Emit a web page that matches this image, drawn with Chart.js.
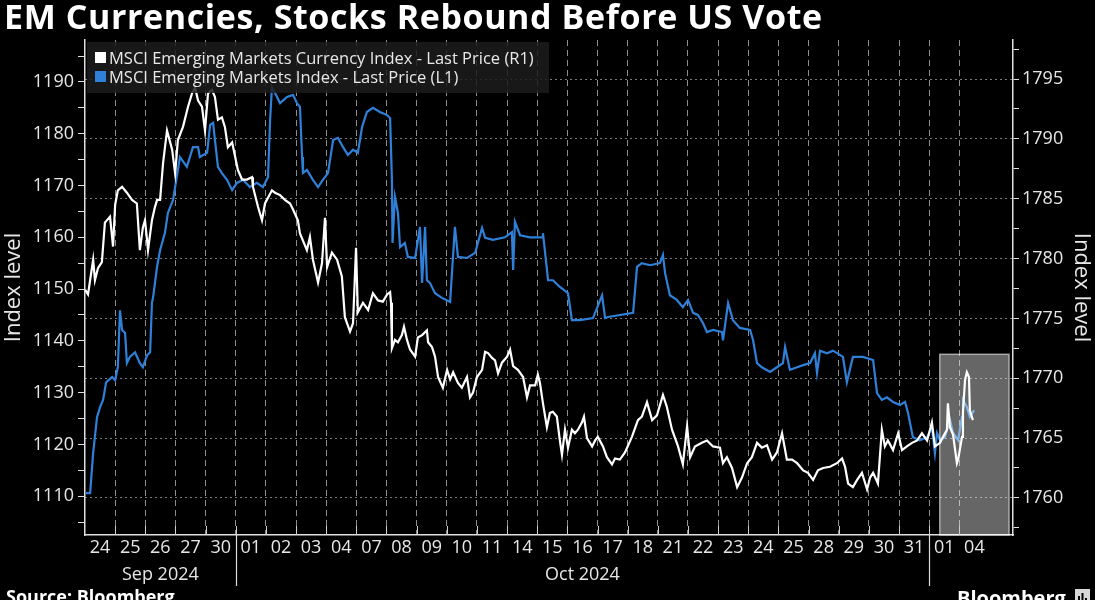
<!DOCTYPE html>
<html>
<head>
<meta charset="utf-8">
<script src="https://cdn.jsdelivr.net/npm/chart.js@4.4.1/dist/chart.umd.min.js"></script>
<style>
  html, body { margin: 0; padding: 0; background: #000; }
  #wrap { width: 1095px; height: 600px; }
</style>
</head>
<body>
<div id="wrap"><canvas id="chart" width="1095" height="600"></canvas></div>
<script>
// trading days on the x axis (one slot per day)
const days = ['24','25','26','27','30','01','02','03','04','07','08','09','10','11','14','15','16','17','18','21','22','23','24','25','28','29','30','31','01','04'];
const months = ['Sep 2024', 'Oct 2024', ''];
const monthStart = [0, 5, 28, 30];

const leftTicks = [1105,1110,1115,1120,1125,1130,1135,1140,1145,1150,1155,1160,1165,1170,1175,1180,1185,1190,1195];
const rightTicks = [1757.5,1760,1762.5,1765,1767.5,1770,1772.5,1775,1777.5,1780,1782.5,1785,1787.5,1790,1792.5,1795,1797.5];

// MSCI EM Currency Index (white, right axis) - position in days, value
const ccyT = [0.00,0.10,0.27,0.33,0.43,0.56,0.66,0.83,0.93,1.00,1.09,1.23,1.39,1.56,1.72,1.82,1.92,1.99,2.06,2.09,2.22,2.32,2.39,2.49,2.59,2.72,2.89,2.99,3.08,3.25,3.42,3.55,3.65,3.75,3.88,3.98,4.08,4.21,4.31,4.41,4.54,4.64,4.74,4.88,4.98,5.07,5.21,5.37,5.54,5.57,5.74,5.87,5.97,6.20,6.30,6.47,6.63,6.80,6.90,7.06,7.13,7.36,7.46,7.56,7.73,7.86,7.96,8.03,8.19,8.36,8.52,8.62,8.79,8.89,8.99,9.05,9.22,9.39,9.55,9.72,9.88,10.02,10.12,10.15,10.18,10.28,10.38,10.51,10.58,10.68,10.78,10.95,11.04,11.18,11.34,11.38,11.51,11.61,11.71,11.87,12.01,12.11,12.21,12.37,12.50,12.67,12.77,12.87,13.00,13.17,13.27,13.37,13.50,13.60,13.70,13.83,14.00,14.10,14.20,14.36,14.53,14.66,14.76,14.93,15.02,15.09,15.19,15.32,15.42,15.52,15.65,15.75,15.82,15.92,16.02,16.15,16.25,16.35,16.48,16.55,16.65,16.82,16.92,17.01,17.18,17.31,17.48,17.58,17.74,17.91,18.14,18.34,18.47,18.64,18.81,18.97,19.17,19.30,19.47,19.67,19.83,19.97,20.07,20.23,20.46,20.63,20.83,21.06,21.16,21.29,21.46,21.63,21.79,21.96,22.12,22.29,22.45,22.62,22.79,22.95,23.12,23.28,23.45,23.62,23.82,23.98,24.15,24.31,24.48,24.71,24.94,25.11,25.21,25.31,25.47,25.61,25.77,25.94,26.04,26.14,26.30,26.43,26.53,26.63,26.80,26.97,27.10,27.26,27.43,27.60,27.76,27.93,28.09,28.19,28.36,28.46,28.59,28.62,28.69,28.79,28.92,28.96,29.09,29.12,29.19,29.25,29.32,29.35,29.45];
const ccyV = [1777.4,1777.0,1779.9,1778.2,1779.2,1779.7,1783.0,1783.5,1781.0,1784.5,1785.7,1786.0,1785.5,1784.9,1784.6,1780.7,1782.6,1783.2,1781.5,1780.7,1783.2,1784.3,1784.9,1784.9,1788.0,1790.7,1789.1,1787.1,1789.9,1791.0,1792.7,1793.8,1794.3,1793.2,1792.7,1790.7,1793.8,1794.1,1793.5,1791.6,1791.8,1791.0,1789.3,1789.7,1788.5,1787.4,1786.6,1786.6,1786.8,1786.0,1784.3,1783.2,1784.6,1785.7,1785.5,1785.3,1784.9,1784.6,1784.1,1783.2,1782.1,1780.7,1781.8,1779.9,1778.0,1779.6,1783.4,1779.3,1780.5,1779.9,1778.5,1775.1,1773.9,1774.6,1780.9,1775.5,1776.3,1775.7,1777.1,1776.5,1776.4,1777.0,1777.2,1776.3,1772.5,1773.2,1773.0,1773.6,1774.3,1773.2,1772.4,1771.8,1773.4,1773.6,1774.0,1773.0,1772.6,1771.8,1770.1,1769.2,1770.7,1769.9,1770.5,1769.6,1769.2,1770.1,1768.4,1768.8,1770.1,1770.7,1772.2,1772.1,1771.7,1771.5,1770.4,1771.3,1771.8,1772.4,1771.0,1770.7,1770.1,1768.4,1769.4,1769.4,1770.3,1769.6,1767.9,1765.9,1767.1,1767.2,1766.8,1764.8,1763.6,1765.7,1764.2,1765.7,1765.4,1765.7,1766.3,1766.8,1765.0,1764.3,1764.8,1765.1,1764.3,1763.4,1762.8,1763.3,1763.2,1763.8,1765.1,1766.5,1766.8,1768.0,1766.5,1766.9,1768.6,1767.6,1765.7,1764.3,1762.8,1766.0,1763.4,1764.3,1764.6,1764.8,1764.3,1764.2,1762.9,1763.4,1762.5,1760.9,1761.7,1762.9,1763.4,1764.6,1764.2,1764.4,1763.2,1763.8,1765.4,1763.2,1763.2,1762.9,1762.3,1762.1,1761.5,1762.3,1762.5,1762.6,1762.9,1763.3,1762.6,1761.2,1760.9,1761.5,1762.1,1760.7,1761.7,1762.1,1761.2,1765.7,1764.3,1764.8,1764.0,1765.4,1764.0,1764.3,1764.6,1764.8,1765.4,1764.8,1766.3,1764.3,1764.6,1765.1,1765.7,1767.9,1765.9,1765.3,1762.9,1763.2,1765.1,1767.1,1769.9,1770.5,1770.1,1767.3,1766.5];

// MSCI EM Index (blue, left axis)
const emT = [0.03,0.17,0.27,0.40,0.50,0.60,0.70,0.90,1.00,1.09,1.16,1.23,1.33,1.39,1.49,1.66,1.82,1.92,2.06,2.16,2.22,2.26,2.39,2.49,2.65,2.75,2.92,3.15,3.38,3.58,3.75,3.81,4.05,4.15,4.25,4.31,4.41,4.54,4.71,4.88,5.04,5.24,5.47,5.70,5.90,6.07,6.14,6.20,6.37,6.47,6.70,6.90,7.03,7.13,7.20,7.23,7.36,7.56,7.73,7.89,8.06,8.23,8.39,8.56,8.72,8.89,9.05,9.19,9.35,9.55,9.78,10.02,10.12,10.18,10.20,10.28,10.38,10.45,10.61,10.71,10.95,11.11,11.18,11.28,11.34,11.44,11.61,11.84,12.11,12.27,12.37,12.67,12.94,13.17,13.27,13.53,13.93,14.16,14.20,14.26,14.43,14.76,15.16,15.19,15.36,15.52,15.75,16.02,16.15,16.42,16.85,17.15,17.25,17.35,18.18,18.31,18.47,18.74,19.07,19.17,19.24,19.40,19.63,19.83,20.00,20.17,20.33,20.50,20.63,20.83,21.13,21.16,21.33,21.49,21.72,22.06,22.16,22.29,22.45,22.72,22.95,23.15,23.22,23.38,23.62,23.82,24.05,24.21,24.28,24.38,24.61,24.81,25.14,25.27,25.47,25.80,26.14,26.27,26.43,26.60,26.80,27.03,27.20,27.30,27.46,27.69,27.93,28.09,28.19,28.26,28.36,28.52,28.69,28.79,28.96,29.09,29.12,29.25,29.35,29.49];
const emV = [1110.6,1110.6,1118.3,1125.3,1127.2,1128.6,1132.0,1133.0,1132.4,1134.9,1145.9,1142.1,1141.5,1135.7,1136.9,1137.8,1135.7,1134.9,1137.2,1137.8,1147.3,1148.5,1154.3,1157.5,1160.8,1164.7,1167.2,1175.5,1173.6,1177.4,1177.4,1175.5,1176.3,1181.7,1182.1,1178.8,1173.6,1172.4,1171.1,1169.1,1170.5,1171.1,1169.7,1170.5,1169.7,1171.6,1182.7,1189.0,1187.1,1185.9,1187.1,1187.5,1185.9,1185.2,1175.5,1172.4,1173.0,1171.1,1169.7,1171.1,1172.4,1178.8,1179.2,1177.4,1175.9,1176.9,1176.3,1181.3,1184.2,1185.0,1184.2,1183.6,1183.0,1171.1,1158.9,1167.8,1164.7,1158.1,1158.9,1156.2,1156.0,1162.0,1151.2,1162.0,1151.7,1151.2,1149.2,1148.3,1147.5,1162.0,1156.2,1156.0,1157.0,1161.8,1159.9,1159.5,1160.0,1161.0,1153.7,1163.0,1160.4,1160.0,1160.0,1160.8,1151.7,1151.7,1150.4,1149.2,1144.0,1144.0,1144.4,1148.8,1144.4,1144.6,1145.4,1154.3,1155.0,1154.6,1155.0,1156.6,1153.1,1148.8,1147.9,1146.5,1147.9,1145.4,1145.0,1143.4,1141.7,1142.1,1141.7,1140.1,1147.3,1144.0,1142.5,1142.1,1140.1,1135.7,1134.9,1134.0,1134.9,1135.7,1138.8,1134.4,1134.9,1135.3,1135.7,1137.6,1133.8,1138.1,1137.6,1138.1,1136.9,1132.0,1136.9,1136.9,1136.3,1129.9,1128.6,1129.1,1128.2,1127.6,1128.2,1126.0,1121.4,1120.8,1121.4,1123.3,1118.3,1122.2,1120.8,1121.4,1124.7,1122.2,1120.8,1125.3,1128.6,1127.2,1125.3,1126.6];

// shaded "vote" window, in axis units
const highlight = { from: 28.35, to: 30.65, top: 1772 };

const WHITE = '#ffffff';
const BLUE = '#2f80d8';
Chart.defaults.font.family = "'Open Sans', sans-serif";
Chart.defaults.color = '#e6e6e6';

const decor = {
  id: 'decor',
  beforeDraw(chart) {
    const c = chart.ctx;
    c.save();
    c.fillStyle = '#000';
    c.fillRect(0, 0, chart.width, chart.height);
    c.restore();
  },
  afterDatasetsDraw(chart) {
    const c = chart.ctx, x = chart.scales.x, y1 = chart.scales.y1, a = chart.chartArea;
    // shaded box on top of the lines
    const bx = x.getPixelForValue(highlight.from), bx2 = x.getPixelForValue(highlight.to);
    const by = y1.getPixelForValue(highlight.top);
    c.save();
    c.fillStyle = 'rgba(255,255,255,0.4)';
    c.fillRect(bx, by, bx2 - bx, a.bottom - by);
    c.strokeStyle = 'rgba(255,255,255,0.55)';
    c.lineWidth = 1.5;
    c.strokeRect(bx, by, bx2 - bx, a.bottom - by);
    // small inward day ticks
    c.strokeStyle = '#cfcfcf';
    c.lineWidth = 1;
    for (let i = 1; i < days.length; i++) {
      const px = Math.round(x.getPixelForValue(i)) + 0.5;
      c.beginPath(); c.moveTo(px, a.bottom); c.lineTo(px, a.bottom - 9); c.stroke();
    }
    c.restore();
  },
  afterDraw(chart) {
    const c = chart.ctx, x = chart.scales.x, a = chart.chartArea;
    c.save();
    // legend
    c.fillStyle = 'rgba(28,28,28,0.85)';
    c.fillRect(a.left + 2, 42, 462, 51);
    c.font = "16.5px 'Open Sans'";
    c.textBaseline = 'alphabetic';
    chart.data.datasets.forEach((ds, i) => {
      const yy = 52 + i * 19;
      c.fillStyle = ds.borderColor;
      c.fillRect(95, yy, 11, 11);
      c.fillStyle = '#e8e8e8';
      c.fillText(ds.label, 109, yy + 11.5);
    });
    // title
    c.fillStyle = '#fff';
    c.font = "bold 34px 'Open Sans'";
    c.letterSpacing = '0.6px';
    c.fillText('EM Currencies, Stocks Rebound Before US Vote', 4, 29);
    c.letterSpacing = '0px';
    // month labels and separators
    c.font = "18px 'Open Sans'";
    c.textAlign = 'center';
    c.fillStyle = '#e6e6e6';
    months.forEach((m, i) => {
      const p0 = x.getPixelForValue(monthStart[i]), p1 = x.getPixelForValue(monthStart[i + 1]);
      if (m) c.fillText(m, (p0 + p1) / 2, 580);
      if (i > 0) {
        c.strokeStyle = '#dcdcdc';
        c.lineWidth = 1.2;
        c.beginPath(); c.moveTo(Math.round(p0) + 0.5, a.bottom); c.lineTo(Math.round(p0) + 0.5, 586); c.stroke();
      }
    });
    // footer
    c.textAlign = 'left';
    c.fillStyle = '#fff';
    c.font = "bold 18px 'Open Sans'";
    c.fillText('Source: Bloomberg', 6, 603);
    c.font = "bold 20px 'Open Sans'";
    c.fillText('Bloomberg', 957, 605);
    c.fillStyle = '#d8d8d8';
    c.fillRect(1075, 589, 15, 15);
    c.fillStyle = '#000';
    c.fillRect(1078, 596, 2, 6); c.fillRect(1081.5, 593, 2, 9); c.fillRect(1085, 598, 2, 4);
    c.restore();
  }
};

new Chart(document.getElementById('chart'), {
  type: 'line',
  data: {
    datasets: [
      {
        label: 'MSCI Emerging Markets Currency Index - Last Price (R1)',
        data: ccyT.map((t, i) => ({ x: t, y: ccyV[i] })),
        yAxisID: 'y1',
        borderColor: WHITE,
        borderWidth: 2.2,
        pointRadius: 0,
        tension: 0
      },
      {
        label: 'MSCI Emerging Markets Index - Last Price (L1)',
        data: emT.map((t, i) => ({ x: t, y: emV[i] })),
        yAxisID: 'y',
        borderColor: BLUE,
        borderWidth: 2.2,
        pointRadius: 0,
        tension: 0
      }
    ]
  },
  options: {
    responsive: false,
    animation: false,
    layout: { padding: { top: 40, left: 0, right: 0, bottom: 0 } },
    plugins: { legend: { display: false }, tooltip: { enabled: false } },
    scales: {
      x: {
        type: 'linear',
        min: 0,
        max: 30.78,
        afterBuildTicks: s => {
          const t = [];
          days.forEach((d, i) => { if (i > 0) t.push({ value: i }); t.push({ value: i + 0.5 }); });
          s.ticks = t;
        },
        afterFit: s => { s.height = 65; },
        ticks: {
          autoSkip: false,
          maxRotation: 0,
          color: '#e6e6e6',
          font: { size: 18 },
          padding: 2,
          callback: v => Number.isInteger(v) ? '' : days[Math.floor(v)]
        },
        grid: {
          color: c => (c.tick && Number.isInteger(c.tick.value)) ? '#8c8c8c' : 'transparent',
          lineWidth: 1,
          drawTicks: false
        },
        border: { color: '#e0e0e0', width: 1.5, dash: [6, 4] }
      },
      y: {
        position: 'left',
        min: 1102.5,
        max: 1198.1,
        afterBuildTicks: s => { s.ticks = leftTicks.map(v => ({ value: v })); },
        afterFit: s => { s.width = 85; },
        ticks: {
          color: '#e6e6e6',
          font: { size: 18 },
          padding: 4,
          callback: v => (v % 10 === 0 ? v : '')
        },
        grid: { drawOnChartArea: false, tickLength: 7, tickColor: '#e0e0e0', color: '#e0e0e0' },
        border: { color: '#e0e0e0', width: 1.5 },
        title: { display: true, text: 'Index level', color: '#e6e6e6', font: { size: 22 }, padding: 1 }
      },
      y1: {
        position: 'right',
        min: 1756.9,
        max: 1798.26,
        afterBuildTicks: s => { s.ticks = rightTicks.map(v => ({ value: v })); },
        afterFit: s => { s.width = 82; },
        ticks: {
          color: '#e6e6e6',
          font: { size: 18 },
          padding: 3,
          callback: v => (v % 5 === 0 ? v : '')
        },
        grid: {
          color: c => (c.tick && c.tick.value % 5 === 0) ? '#7a7a7a' : 'transparent',
          tickColor: '#e0e0e0',
          tickLength: 6,
          lineWidth: 1
        },
        border: { color: '#e0e0e0', width: 1.5, dash: [2, 3] },
        title: { display: true, text: 'Index level', color: '#e6e6e6', font: { size: 22 }, padding: 1 }
      }
    }
  },
  plugins: [decor]
});
</script>
</body>
</html>
